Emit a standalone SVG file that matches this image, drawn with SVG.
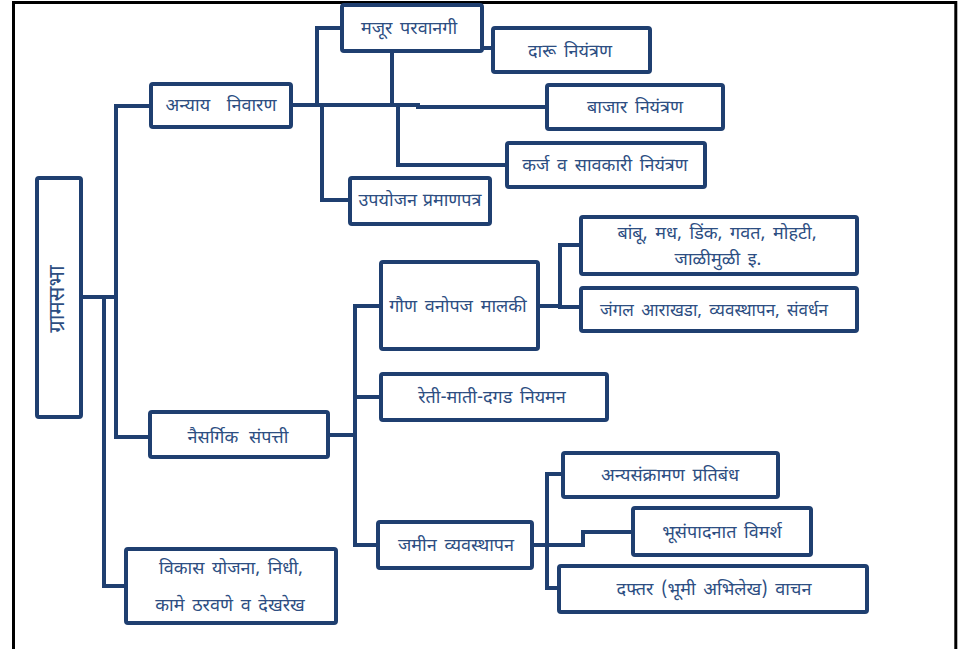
<svg xmlns="http://www.w3.org/2000/svg" width="958" height="649" viewBox="0 0 958 649">
<style>
.box{fill:#ffffff;stroke:#1f3f70;stroke-width:4;}
.t{font-family:"Noto Sans Devanagari","Noto Sans","Lohit Devanagari","FreeSans",sans-serif;font-size:18px;word-spacing:3px;fill:#2d4e82;text-anchor:middle;}
.c{fill:none;stroke:#1f3f70;stroke-width:4;stroke-linejoin:miter;stroke-linecap:square;}
</style>
<rect x="0" y="0" width="958" height="649" fill="#ffffff"/>
<path d="M13.5,649 V2.5 H955.8 V649" fill="none" stroke="#000000" stroke-width="3"/>
<g id="connectors">
<path class="c" d="M81,297 H116"/>
<path class="c" d="M151,106 H116 V437 H150"/>
<path class="c" d="M104,297 V586 H126"/>
<path class="c" d="M292,105 H418 V107 H547"/>
<path class="c" d="M317,105 V28 H342"/>
<path class="c" d="M322,105 V200 H350"/>
<path class="c" d="M392,51 V105"/>
<path class="c" d="M398,105 V165 H507"/>
<path class="c" d="M482,48 H493"/>
<path class="c" d="M328,435 H355"/>
<path class="c" d="M381,306 H355 V545 H378"/>
<path class="c" d="M355,397 H381"/>
<path class="c" d="M538,306 H560"/>
<path class="c" d="M581,245 H560 V307 H581"/>
<path class="c" d="M532,545 H583 V532 H633"/>
<path class="c" d="M563,474 H547 V588 H559"/>
</g>
<g id="gramsabha">
<rect class="box" x="37" y="178" width="44" height="239" rx="2"/>
<text class="t" transform="translate(58,299) rotate(-90)" y="6" style="font-size:22px">ग्रामसभा</text>
</g>
<g id="anyay-nivaran">
<rect class="box" x="151" y="84" width="140" height="43" rx="2"/>
<text class="t" x="221" y="111" style="word-spacing:12px">अन्याय निवारण</text>
</g>
<g id="majur-parvanagi">
<rect class="box" x="342" y="5" width="140" height="46" rx="2"/>
<text class="t" x="409" y="34">मजूर परवानगी</text>
</g>
<g id="daru-niyantran">
<rect class="box" x="493" y="28" width="157" height="44" rx="2"/>
<text class="t" x="570" y="57">दारू नियंत्रण</text>
</g>
<g id="bajar-niyantran">
<rect class="box" x="547" y="85" width="176" height="44" rx="2"/>
<text class="t" x="635" y="113">बाजार नियंत्रण</text>
</g>
<g id="karj">
<rect class="box" x="507" y="143" width="198" height="44" rx="2"/>
<text class="t" x="605" y="171">कर्ज व सावकारी नियंत्रण</text>
</g>
<g id="upayojan">
<rect class="box" x="350" y="178" width="140" height="46" rx="2"/>
<text class="t" x="420" y="206" style="word-spacing:1px">उपयोजन प्रमाणपत्र</text>
</g>
<g id="naisargik">
<rect class="box" x="150" y="412" width="178" height="45" rx="2"/>
<text class="t" x="238" y="443" style="word-spacing:6px">नैसर्गिक संपत्ती</text>
</g>
<g id="goun-vanopaj">
<rect class="box" x="381" y="262" width="157" height="87" rx="2"/>
<text class="t" x="458" y="312">गौण वनोपज मालकी</text>
</g>
<g id="bambu">
<rect class="box" x="581" y="217" width="276" height="57" rx="2"/>
<text class="t" x="717" y="239">बांबू, मध, डिंक, गवत, मोहटी,</text>
<text class="t" x="718" y="265">जाळीमुळी इ.</text>
</g>
<g id="jangal">
<rect class="box" x="581" y="288" width="276" height="43" rx="2"/>
<text class="t" x="714" y="316" style="font-size:17px">जंगल आराखडा, व्यवस्थापन, संवर्धन</text>
</g>
<g id="reti">
<rect class="box" x="381" y="374" width="226" height="46" rx="2"/>
<text class="t" x="492" y="403">रेती-माती-दगड नियमन</text>
</g>
<g id="jamin">
<rect class="box" x="378" y="522" width="154" height="46" rx="2"/>
<text class="t" x="456" y="551">जमीन व्यवस्थापन</text>
</g>
<g id="anyasankraman">
<rect class="box" x="563" y="453" width="215" height="44" rx="2"/>
<text class="t" x="670" y="481">अन्यसंक्रामण प्रतिबंध</text>
</g>
<g id="bhusampadan">
<rect class="box" x="633" y="508" width="178" height="47" rx="2"/>
<text class="t" x="722" y="538">भूसंपादनात विमर्श</text>
</g>
<g id="daftar">
<rect class="box" x="559" y="566" width="308" height="46" rx="2"/>
<text class="t" x="714" y="595">दफ्तर (भूमी अभिलेख) वाचन</text>
</g>
<g id="vikas">
<rect class="box" x="126" y="549" width="210" height="74" rx="2"/>
<text class="t" x="231" y="574">विकास योजना, निधी,</text>
<text class="t" x="230" y="611">कामे ठरवणे व देखरेख</text>
</g>
</svg>
